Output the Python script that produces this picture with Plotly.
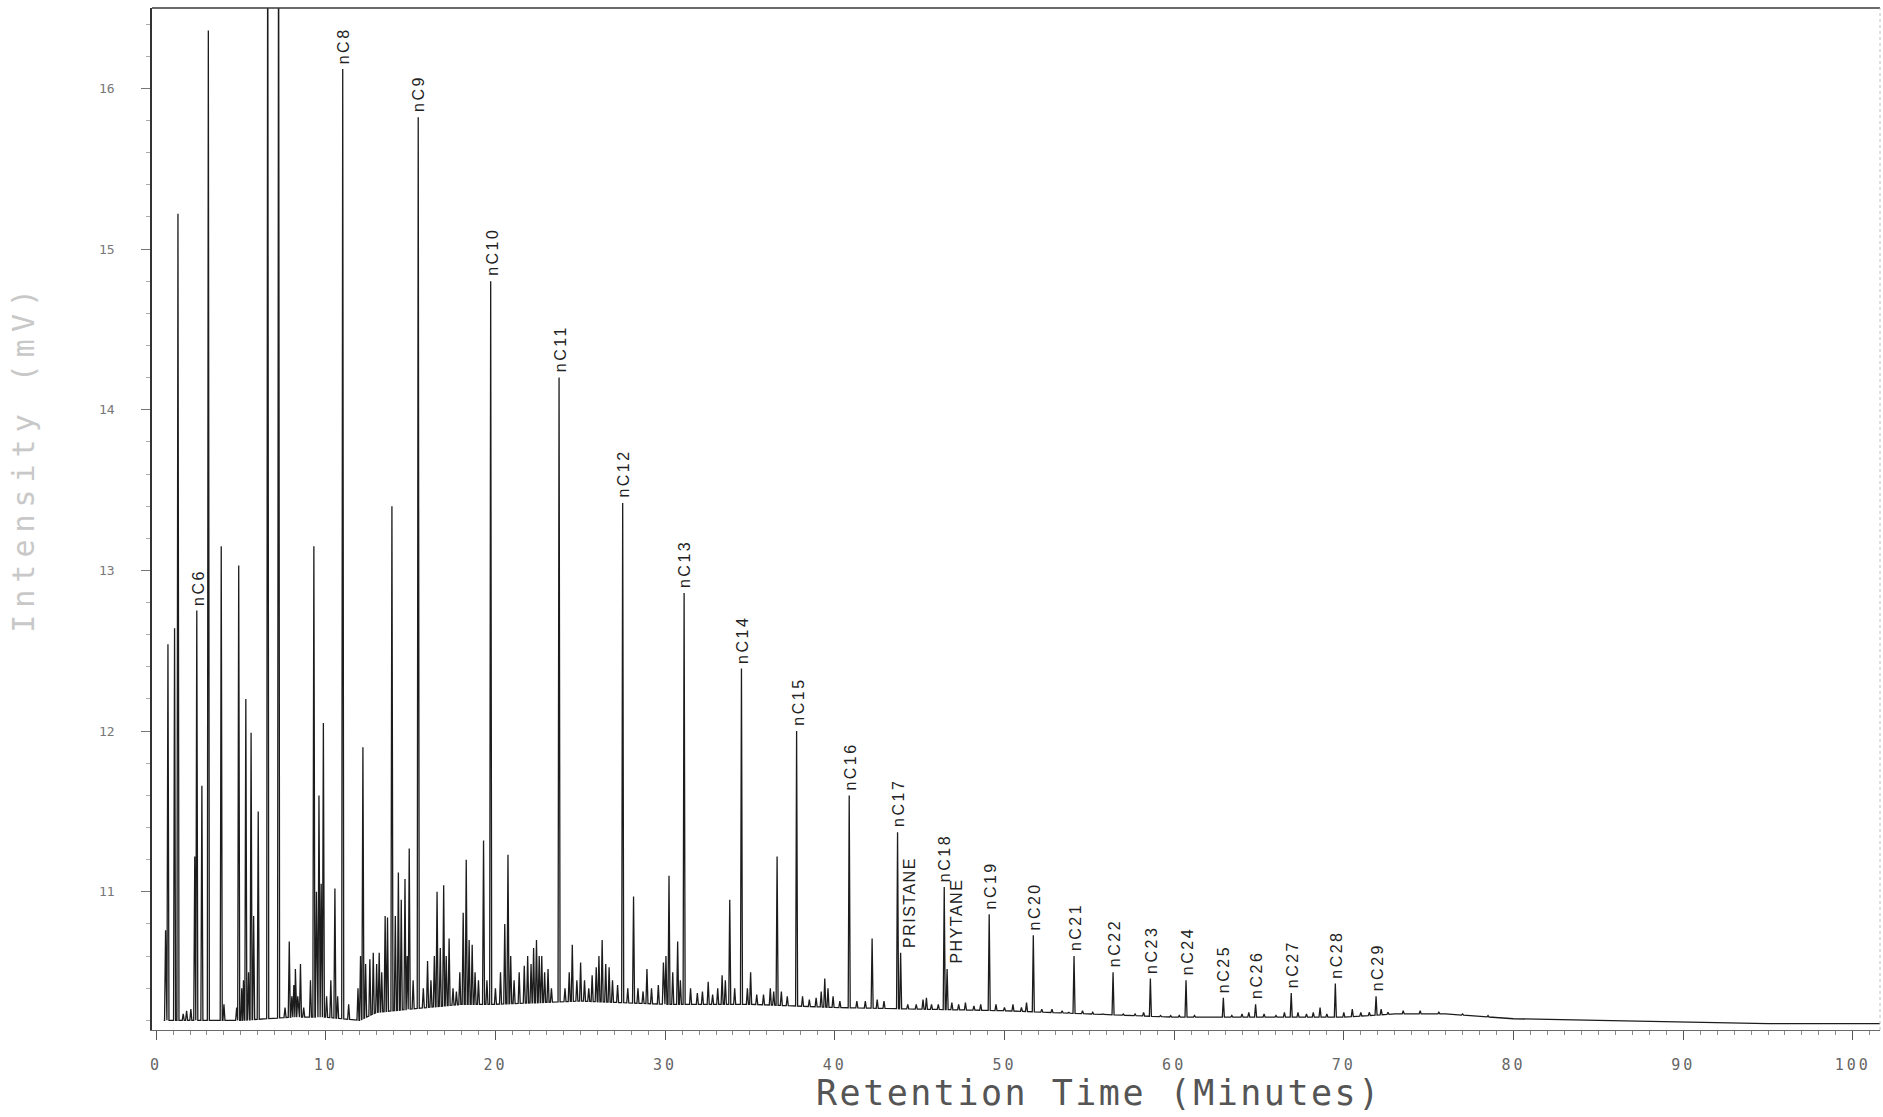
import numpy as np
import plotly.graph_objects as go

# ---------------- data ----------------
alkane_names = ["nC6", "nC8", "nC9", "nC10", "nC11", "nC12", "nC13", "nC14", "nC15",
                "nC16", "nC17", "nC18", "nC19", "nC20", "nC21", "nC22", "nC23",
                "nC24", "nC25", "nC26", "nC27", "nC28", "nC29"]
alkane_times = [2.40, 11.0, 15.45, 19.72, 23.75, 27.5, 31.12, 34.5, 37.75,
                40.85, 43.7, 46.45, 49.1, 51.7, 54.1, 56.4, 58.6,
                60.7, 62.9, 64.8, 66.9, 69.5, 71.9]
alkane_heights = [12.75, 16.12, 15.82, 14.80, 14.20, 13.42, 12.86, 12.39, 12.00,
                  11.60, 11.37, 11.03, 10.86, 10.73, 10.60, 10.50, 10.46,
                  10.45, 10.34, 10.30, 10.37, 10.43, 10.35]

biomarker_names = ["PRISTANE", "PHYTANE"]
biomarker_times = [43.88, 46.62]
biomarker_heights = [10.62, 10.52]

other_times = [
    0.56, 0.70, 1.09, 1.29, 1.60, 1.80, 2.05, 2.28, 2.70, 3.08, 3.84, 4.00, 4.75, 4.87,
    5.05, 5.15, 5.29, 5.45, 5.60, 5.75, 6.02, 6.58, 7.22, 7.60, 7.85, 8.00, 8.12, 8.21,
    8.35, 8.51, 8.70, 9.10, 9.30, 9.45, 9.60, 9.73, 9.86, 10.05, 10.30, 10.54, 10.70,
    11.35, 11.90, 12.05, 12.19, 12.35, 12.60, 12.80, 13.00, 13.15, 13.30, 13.50, 13.64,
    13.90, 14.10, 14.28, 14.45, 14.67, 14.80, 14.92, 15.15, 15.75, 16.00, 16.20, 16.40,
    16.56, 16.75, 16.95, 17.10, 17.27, 17.50, 17.70, 17.90, 18.10, 18.28, 18.45, 18.63,
    18.80, 19.00, 19.30, 19.50, 20.00, 20.30, 20.55, 20.74, 20.90, 21.10, 21.40, 21.70,
    21.90, 22.10, 22.25, 22.42, 22.58, 22.73, 22.90, 23.10, 23.30, 24.10, 24.35, 24.53,
    24.80, 25.02, 25.25, 25.50, 25.70, 25.94, 26.10, 26.29, 26.50, 26.70, 26.90, 27.20,
    27.80, 28.14, 28.40, 28.70, 28.93, 29.20, 29.60, 29.90, 30.05, 30.23, 30.45, 30.74,
    30.90, 31.50, 31.90, 32.20, 32.54, 32.80, 33.10, 33.36, 33.55, 33.81, 34.10, 34.85,
    35.04, 35.40, 35.80, 36.20, 36.40, 36.60, 36.85, 37.20, 38.10, 38.50, 38.90, 39.20,
    39.41, 39.60, 39.90, 40.30, 41.30, 41.80, 42.20, 42.50, 42.90, 44.30, 44.80, 45.20,
    45.40, 45.70, 46.10, 46.90, 47.30, 47.70, 48.20, 48.60, 49.50, 50.00, 50.50, 51.00,
    51.30, 52.20, 52.80, 53.40, 53.80, 54.60, 55.20, 55.80, 57.00, 57.70, 58.20, 59.20,
    59.80, 60.30, 61.20, 61.80, 62.40, 63.40, 64.00, 64.40, 65.30, 66.00, 66.50, 67.30,
    67.80, 68.20, 68.60, 69.00, 70.00, 70.50, 71.00, 71.50, 72.20, 72.60, 73.50, 74.50,
    75.60, 77.00, 78.50]
other_heights = [
    10.76, 12.54, 12.64, 15.22, 10.24, 10.26, 10.27, 11.22, 11.66, 16.36, 13.15, 10.30, 10.28, 13.03,
    10.40, 10.45, 12.20, 10.50, 11.99, 10.85, 11.50, 17.50, 17.50, 10.28, 10.69, 10.35, 10.42, 10.52,
    10.35, 10.55, 10.28, 10.45, 13.15, 11.00, 11.60, 11.05, 12.05, 10.35, 10.45, 11.02, 10.35,
    10.30, 10.40, 10.60, 11.90, 10.55, 10.58, 10.62, 10.55, 10.62, 10.50, 10.85, 10.84,
    13.40, 10.85, 11.12, 10.95, 11.08, 10.60, 11.27, 10.45, 10.40, 10.57, 10.45, 10.60,
    11.00, 10.65, 11.04, 10.60, 10.71, 10.40, 10.38, 10.50, 10.87, 11.20, 10.70, 10.67,
    10.50, 10.45, 11.32, 10.45, 10.40, 10.50, 10.80, 11.23, 10.60, 10.45, 10.50, 10.54,
    10.60, 10.55, 10.65, 10.70, 10.60, 10.60, 10.50, 10.52, 10.40, 10.40, 10.50, 10.67,
    10.45, 10.56, 10.45, 10.40, 10.48, 10.53, 10.60, 10.70, 10.55, 10.53, 10.45, 10.42,
    10.40, 10.97, 10.40, 10.38, 10.52, 10.40, 10.42, 10.56, 10.60, 11.10, 10.50, 10.69,
    10.45, 10.40, 10.37, 10.38, 10.44, 10.36, 10.40, 10.48, 10.45, 10.95, 10.40, 10.40,
    10.50, 10.36, 10.36, 10.40, 10.38, 11.22, 10.38, 10.35, 10.35, 10.33, 10.34, 10.38,
    10.46, 10.40, 10.35, 10.32, 10.32, 10.32, 10.71, 10.33, 10.32, 10.30, 10.30, 10.33,
    10.34, 10.30, 10.30, 10.31, 10.30, 10.31, 10.29, 10.30, 10.30, 10.28, 10.30, 10.28,
    10.31, 10.27, 10.27, 10.26, 10.25, 10.26, 10.25, 10.24, 10.24, 10.24, 10.25, 10.23,
    10.23, 10.23, 10.23, 10.22, 10.22, 10.23, 10.24, 10.25, 10.24, 10.23, 10.25, 10.25,
    10.24, 10.25, 10.28, 10.24, 10.25, 10.27, 10.25, 10.25, 10.27, 10.25, 10.26, 10.26,
    10.25, 10.24, 10.23]

baseline_times = [0.45, 5.0, 8.0, 10.0, 12.0, 13.0, 15.0, 18.0, 20.0, 25.0, 30.0, 35.0,
                  40.0, 45.0, 50.0, 55.0, 60.0, 65.0, 70.0, 73.0, 76.0, 80.0, 85.0,
                  90.0, 95.0, 100.0, 101.6]
baseline_levels = [10.20, 10.20, 10.22, 10.22, 10.20, 10.25, 10.27, 10.30, 10.30, 10.32,
                   10.30, 10.30, 10.28, 10.27, 10.26, 10.24, 10.22, 10.22, 10.22, 10.24,
                   10.24, 10.21, 10.20, 10.19, 10.18, 10.18, 10.18]

x_ticks = [0, 10, 20, 30, 40, 50, 60, 70, 80, 90, 100]
y_ticks = [11, 12, 13, 14, 15, 16]

# ---------------- build the trace (spikes on the baseline) ----------------
peak_t = np.array(alkane_times + biomarker_times + other_times)
peak_h = np.array(alkane_heights + biomarker_heights + other_heights)
order = np.argsort(peak_t)
peak_t, peak_h = peak_t[order], peak_h[order]

w = 0.06
pts = []
for t, h in zip(peak_t, peak_h):
    pts.append((t - w, float(np.interp(t - w, baseline_times, baseline_levels))))
    pts.append((t, h))
    pts.append((t + w, float(np.interp(t + w, baseline_times, baseline_levels))))
for bt, bl in zip(baseline_times, baseline_levels):
    if np.all(np.abs(peak_t - bt) > w * 1.5):
        pts.append((bt, bl))
pts.sort(key=lambda p: p[0])
xs = [p[0] for p in pts]
ys = [p[1] for p in pts]

fig = go.Figure()
fig.add_trace(go.Scatter(x=xs, y=ys, mode="lines",
                         line=dict(color="#1c1c1c", width=1.3),
                         hoverinfo="skip", showlegend=False))


def spaced(text, px):
    return '<span style="letter-spacing:%spx">%s</span>' % (px, text)


label_font = dict(family="Arial, Liberation Sans, sans-serif", size=16, color="#222")
for name, t, h in zip(alkane_names, alkane_times, alkane_heights):
    fig.add_annotation(x=t, y=h, text=spaced(name, 2.5), textangle=-90, showarrow=False,
                       xanchor="center", yanchor="bottom", yshift=3, xshift=1,
                       font=label_font)
for name, t, h in zip(biomarker_names, biomarker_times, biomarker_heights):
    fig.add_annotation(x=t, y=h, text=spaced(name, 1.5), textangle=-90, showarrow=False,
                       xanchor="center", yanchor="bottom", yshift=3, xshift=9,
                       font=label_font)

# axis titles
fig.add_annotation(xref="paper", yref="paper", x=0.548, y=-0.062,
                   text=spaced("Retention Time (Minutes)", 2.5), showarrow=False,
                   xanchor="center", yanchor="middle",
                   font=dict(family="DejaVu Sans Mono, monospace", size=35, color="#555"))
fig.add_annotation(xref="paper", yref="paper", x=-0.074, y=0.56,
                   text=spaced("Intensity (mV)", 7), showarrow=False, textangle=-90,
                   xanchor="center", yanchor="middle",
                   font=dict(family="DejaVu Sans Mono, monospace", size=30, color="#c8c8c8"))

# frame: top and right borders
fig.add_shape(type="line", xref="paper", yref="paper", x0=0, x1=1, y0=1, y1=1,
              line=dict(color="#3a3a3a", width=1.5))
fig.add_shape(type="line", xref="paper", yref="paper", x0=1, x1=1, y0=0, y1=1,
              line=dict(color="#c0c0c0", width=1, dash="dot"))

fig.update_layout(
    width=1883, height=1117,
    margin=dict(l=152, r=3, t=8, b=87),
    paper_bgcolor="white", plot_bgcolor="white",
    xaxis=dict(range=[-0.24, 101.6], tickvals=x_ticks,
               ticktext=[spaced(str(v), 3) for v in x_ticks],
               showgrid=False, zeroline=False, showline=True, linecolor="#6a6a6a", linewidth=1,
               ticks="outside", ticklen=9, tickwidth=1.2, tickcolor="#555",
               ticklabelstandoff=12,
               minor=dict(dtick=1, ticks="outside", ticklen=4, tickcolor="#888", tickwidth=1),
               tickfont=dict(family="DejaVu Sans Mono, monospace", size=15, color="#666")),
    yaxis=dict(range=[10.14, 16.5], tickvals=y_ticks, ticktext=[str(v) for v in y_ticks],
               showgrid=False, zeroline=False, showline=True, linecolor="#333", linewidth=1.6,
               ticks="outside", ticklen=9, tickwidth=1, tickcolor="#777",
               ticklabelstandoff=24,
               minor=dict(dtick=0.2, tick0=10, ticks="outside", ticklen=4, tickcolor="#aaa", tickwidth=1),
               tickfont=dict(family="DejaVu Sans Mono, monospace", size=13, color="#777")),
)

fig.write_html("out.html")
